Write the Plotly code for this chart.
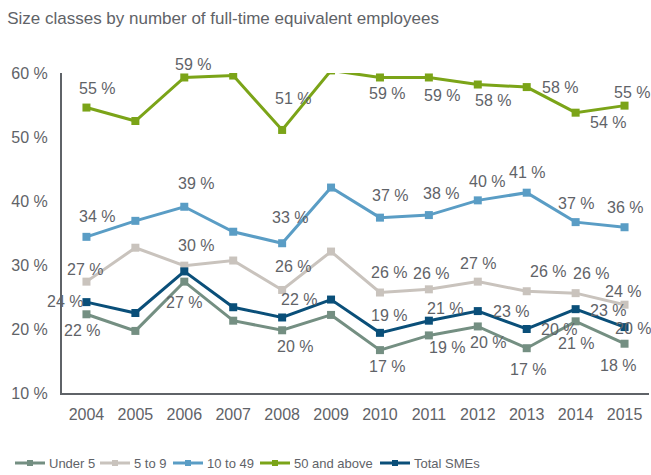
import plotly.graph_objects as go

years = ["2004", "2005", "2006", "2007", "2008", "2009",
         "2010", "2011", "2012", "2013", "2014", "2015"]

under_5 = [22.3, 19.7, 27.4, 21.3, 19.8, 22.2, 16.7, 19.0, 20.4, 17.0, 21.2, 17.7]
five_to_9 = [27.4, 32.7, 29.9, 30.7, 26.1, 32.1, 25.7, 26.2, 27.4, 25.9, 25.6, 23.8]
ten_to_49 = [34.4, 36.9, 39.1, 35.2, 33.4, 42.1, 37.4, 37.8, 40.1, 41.3, 36.7, 35.9]
fifty_plus = [54.6, 52.5, 59.3, 59.6, 51.1, 60.4, 59.3, 59.3, 58.2, 57.8, 53.8, 54.9]
total_smes = [24.2, 22.5, 29.0, 23.4, 21.8, 24.6, 19.4, 21.3, 22.8, 20.0, 23.1, 20.3]

series_names = ["Under 5", "5 to 9", "10 to 49", "50 and above", "Total SMEs"]
series_values = [under_5, five_to_9, ten_to_49, fifty_plus, total_smes]
colors = ["#748F82", "#C9C3BD", "#5A9DC5", "#7BA418", "#0A4F79"]

FONT = "Liberation Sans, Arial, sans-serif"
TEXT_COLOR = "#5F6368"

# Pixel offsets of each value label from its point (None = no label)
label_offsets = [
    [(-4, -16), None, (0, -21), None, (13, -16), None,
     (7, -16), (18, -12), (10, -16), (1, -21), (0, -22), (-7, -22)],
    [(-1, 12), None, (12, 20), None, (11, 23), None,
     (9, 20), (2, 16), (0, 18), (21, 20), (15, 20), (-2, 13)],
    [(11, 20), None, (12, 23), None, (8, 26), None,
     (10, 22), (12, 22), (9, 19), (0, 20), (0, 19), (0, 20)],
    [(11, 19), None, (9, 13), None, (11, 31), None,
     (7, -16), (13, -18), (15, -16), (33, 0), (32, -10), (7, 13)],
    [(-21, 1), None, None, None, (17, 18), None,
     (9, 17), (16, 12), (33, 0), (32, 0), (32, -1), (8, -1)],
]

fig = go.Figure()

for name, vals, color in zip(series_names, series_values, colors):
    fig.add_trace(go.Scatter(
        x=years, y=vals, name=name, mode="lines+markers",
        line=dict(color=color, width=3),
        marker=dict(symbol="square", size=8, color=color),
        cliponaxis=True, showlegend=False,
    ))

# Value labels, placed at each category index on the x axis
for vals, offsets in zip(series_values, label_offsets):
    for idx, (v, off) in enumerate(zip(vals, offsets)):
        if off is None:
            continue
        fig.add_annotation(
            x=idx, y=v, xref="x", yref="y", text=f"{round(v)} %",
            showarrow=False, xshift=off[0], yshift=off[1],
            font=dict(family=FONT, size=16, color=TEXT_COLOR),
        )

# Legend row drawn below the plot: short line + square marker + label
PLOT_L, PLOT_W = 62, 587
PLOT_B, PLOT_H = 393, 320
legend_starts = [15, 100, 173, 260, 380]   # px, left end of each glyph
legend_y_px = 463


def px_x(px):
    return (px - PLOT_L) / PLOT_W


def px_y(px):
    return (PLOT_B - px) / PLOT_H


ly = px_y(legend_y_px)
for name, color, start in zip(series_names, colors, legend_starts):
    fig.add_shape(type="line", xref="paper", yref="paper",
                  x0=px_x(start), x1=px_x(start + 30), y0=ly, y1=ly,
                  line=dict(color=color, width=3))
    fig.add_shape(type="rect", xref="paper", yref="paper",
                  x0=px_x(start + 12), x1=px_x(start + 18),
                  y0=px_y(legend_y_px + 3), y1=px_y(legend_y_px - 3),
                  line=dict(width=0), fillcolor=color)
    fig.add_annotation(x=px_x(start + 32), y=ly, xref="paper", yref="paper",
                       text=name, showarrow=False, xanchor="left", yanchor="middle",
                       font=dict(family=FONT, size=13, color=TEXT_COLOR))

fig.update_layout(
    width=651, height=475,
    margin=dict(l=62, r=2, t=73, b=82),
    paper_bgcolor="white", plot_bgcolor="white",
    title=dict(
        text="Size classes by number of full-time equivalent employees",
        x=0.011, xanchor="left", y=0.963, yanchor="middle",
        font=dict(family=FONT, size=17, color=TEXT_COLOR),
    ),
    font=dict(family=FONT, color=TEXT_COLOR),
    showlegend=False,
)

fig.update_xaxes(
    type="category", range=[-0.5, 11.5],
    showline=True, linecolor=TEXT_COLOR, linewidth=2,
    showgrid=False, ticks="", tickfont=dict(size=16, color=TEXT_COLOR),
    ticklabelstandoff=6,
)
fig.update_yaxes(
    range=[10, 60], tickvals=[10, 20, 30, 40, 50, 60],
    ticktext=["10 %", "20 %", "30 %", "40 %", "50 %", "60 %"],
    showline=True, linecolor=TEXT_COLOR, linewidth=2,
    showgrid=False, zeroline=False, ticks="",
    tickfont=dict(size=16, color=TEXT_COLOR), ticklabelstandoff=9,
)

fig.write_html("out.html")
